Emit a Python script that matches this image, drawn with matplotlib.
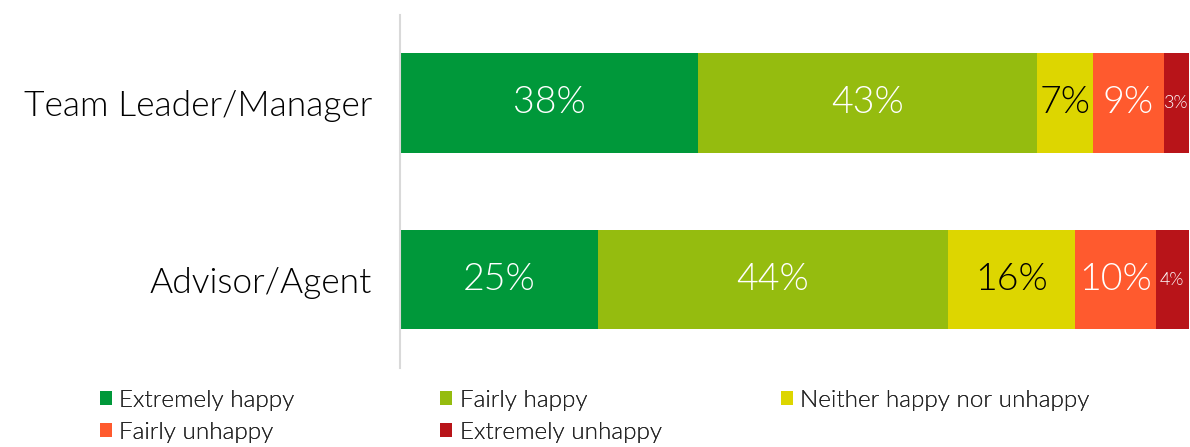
import matplotlib
matplotlib.use("Agg")
import matplotlib.pyplot as plt
import numpy as np

plt.rcParams["font.family"] = ["Lato", "DejaVu Sans"]

categories = ["Advisor/Agent", "Team Leader/Manager"]
series_names = ["Extremely happy", "Fairly happy", "Neither happy nor unhappy",
                "Fairly unhappy", "Extremely unhappy"]
# shares per series, [Advisor/Agent, Team Leader/Manager]
extremely_happy = [25.1, 37.8]
fairly_happy = [44.4, 43.0]
neither = [16.1, 7.0]
fairly_unhappy = [10.2, 9.0]
extremely_unhappy = [4.2, 3.2]

colors = ["#00983A", "#95BC0F", "#DDD600", "#FF5A2E", "#B81419"]
text_colors = ["white", "white", "black", "white", "white"]

values = [extremely_happy, fairly_happy, neither, fairly_unhappy, extremely_unhappy]

fig = plt.figure(figsize=(11.9, 4.47), dpi=100)
ax = fig.add_axes([0.336, 0.177, 0.663, 0.79])

y = np.arange(len(categories))
left = np.zeros(len(categories))
handles = []
for name, vals, c, tc in zip(series_names, values, colors, text_colors):
    vals = np.array(vals)
    bars = ax.barh(y, vals, left=left, height=0.565, color=c, label=name,
                   edgecolor="none")
    handles.append(bars)
    for i, (l, v) in enumerate(zip(left, vals)):
        fs = 27 if v >= 6 else 13
        ax.text(l + v / 2, y[i], f"{round(v)}%", ha="center", va="center",
                color=tc, fontsize=fs, fontweight=300)
    left += vals

ax.set_xlim(0, left.max())
ax.set_ylim(-0.5, 1.5)
ax.set_yticks(y)
ax.set_yticklabels(categories, fontsize=25.5, fontweight=300)
ax.tick_params(axis="y", length=0, pad=20)
ax.set_xticks([])
for s in ["top", "right", "bottom"]:
    ax.spines[s].set_visible(False)
ax.spines["left"].set_color("#D9D9D9")
ax.spines["left"].set_linewidth(1.5)

# legend laid out row by row in three columns
cols = [[0, 3], [1, 4], [2]]
col_x = [0.084, 0.370, 0.656]
for idx, x0 in zip(cols, col_x):
    leg = fig.legend([handles[k] for k in idx], [series_names[k] for k in idx],
                     loc="upper left", bbox_to_anchor=(x0, 0.128), frameon=False,
                     fontsize=17.5, handlelength=0.5, handleheight=0.5,
                     handletextpad=0.3, labelspacing=0.45, borderpad=0,
                     borderaxespad=0, prop={"size": 17.5, "weight": 300})
    for t in leg.get_texts():
        t.set_color("#262626")
    fig.add_artist(leg)

fig.savefig("out.png", dpi=100)
